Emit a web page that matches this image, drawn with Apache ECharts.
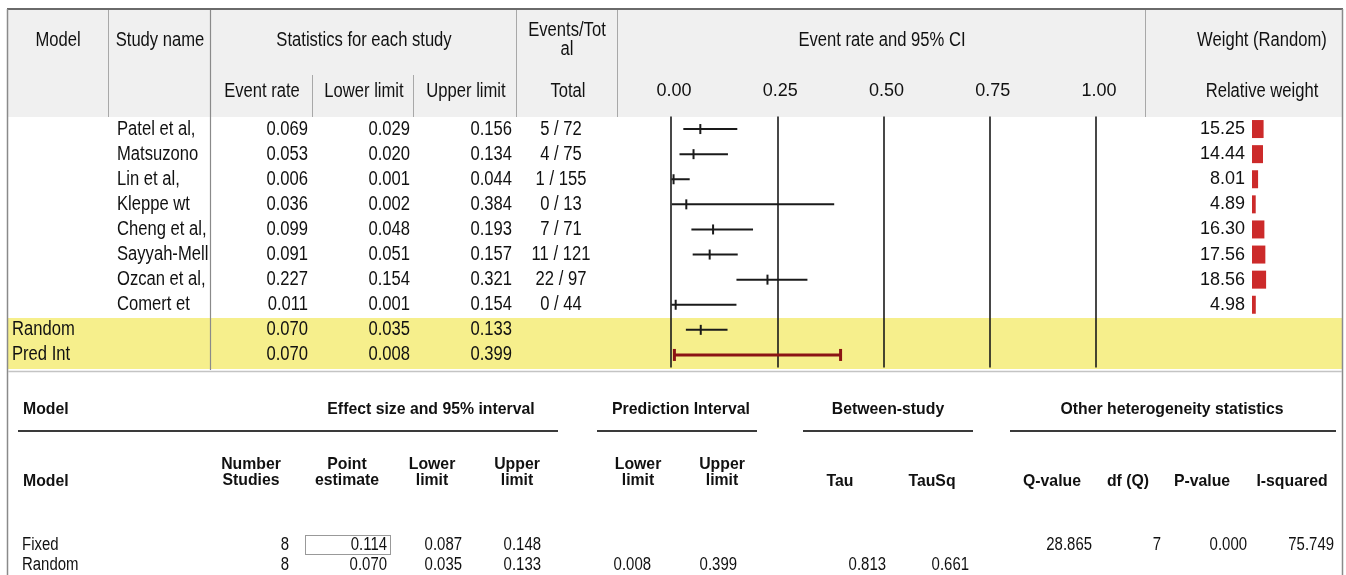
<!DOCTYPE html>
<html><head><meta charset="utf-8">
<script src="https://cdn.jsdelivr.net/npm/echarts@6/dist/echarts.min.js"></script>
<style>html,body{margin:0;padding:0;background:#fff}#c{width:1346px;height:575px}</style>
</head><body><div id="c"></div>
<script>
// ---------- data ----------
const studies = ['Patel et al,','Matsuzono','Lin et al,','Kleppe wt','Cheng et al,','Sayyah-Mell','Ozcan et al,','Comert et'];
const summaryModels = ['Random','Pred Int'];
const eventRate  = [0.069,0.053,0.006,0.036,0.099,0.091,0.227,0.011,0.070,0.070];
const lowerLimit = [0.029,0.020,0.001,0.002,0.048,0.051,0.154,0.001,0.035,0.008];
const upperLimit = [0.156,0.134,0.044,0.384,0.193,0.157,0.321,0.154,0.133,0.399];
const eventsTotal = ['5 / 72','4 / 75','1 / 155','0 / 13','7 / 71','11 / 121','22 / 97','0 / 44'];
const relWeight = [15.25,14.44,8.01,4.89,16.30,17.56,18.56,4.98];
const ciTicks = [0,0.25,0.5,0.75,1];

const sumRows   = ['Fixed','Random'];
const numStudies = [8,8];
const pointEst  = [0.114,0.070];
const lowerCI   = [0.087,0.035];
const upperCI   = [0.148,0.133];
const predLower = [null,0.008];
const predUpper = [null,0.399];
const tau       = [null,0.813];
const tauSq     = [null,0.661];
const qValue    = [28.865,null];
const dfQ       = [7,null];
const pValue    = [0.000,null];
const iSquared  = [75.749,null];

// ---------- styles / layout ----------
const FN = '"Liberation Sans",Arial,sans-serif';
const F_TOP = '20px ' + FN;
const F_BOLD = 'bold 17px ' + FN;
const F_NUM = '18px ' + FN;
const SX = 0.83, SXB = 0.93;
const ROW_TOP = 116.5, ROW_H = 251;
const rows = studies.concat(summaryModels);

const g = [];
function rect(x,y,w,h,fill,z){ g.push({type:'rect',z:z===undefined?-10:z,silent:true,shape:{x,y,width:w,height:h},style:{fill}}); }
function line(x1,y1,x2,y2,stroke,w,z){ g.push({type:'line',z:z===undefined?-5:z,silent:true,shape:{x1,y1,x2,y2},style:{stroke,lineWidth:w}}); }
function stext(t,x,y,font,align,sx){ return {type:'text',x:x,y:y,scaleX:sx||SX,silent:true,style:{text:t,x:0,y:0,font,textAlign:align||'center',textVerticalAlign:'middle',verticalAlign:'middle',fill:'#111'}}; }
function text(t,x,y,font,align,sx){ const e=stext(t,x,y,font,align,sx); e.z=5; g.push(e); }
function btext(t,x,y,align){ text(t,x,y,F_BOLD,align,SXB); }

// backgrounds
rect(8,10,1334,107,'#f0f0f0');
rect(8,318,1334,51,'#f6ef8c');
// frame
line(7,9,1343,9,'#6a6a6a',2);
line(7.5,9,7.5,575,'#8a8a8a',1.5);
line(1342.5,9,1342.5,575,'#8a8a8a',1.5);
line(8,371.5,1342,371.5,'#c4c4c4',1.5);
// header separators
[108.5,516.5,617.5,1145.5].forEach(x=>line(x,10,x,117,'#a8a8a8',1));
line(210.5,10,210.5,370,'#8a8a8a',1.2);
[312.5,413.5].forEach(x=>line(x,75,x,117,'#a8a8a8',1));
// header texts
text('Model',58,40,F_TOP);
text('Study name',160,40,F_TOP);
text('Statistics for each study',364,40,F_TOP);
text('Events/Tot',567,30,F_TOP);
text('al',567,49,F_TOP);
text('Event rate and 95% CI',882,40,F_TOP);
text('Weight (Random)',1262,40,F_TOP);
text('Event rate',262,91,F_TOP);
text('Lower limit',364,91,F_TOP);
text('Upper limit',466,91,F_TOP);
text('Total',568,91,F_TOP);
text('Relative weight',1262,91,F_TOP);

// ---------- bottom table ----------
btext('Model',23,409,'left');
btext('Effect size and 95% interval',431,409);
btext('Prediction Interval',681,409);
btext('Between-study',888,409);
btext('Other heterogeneity statistics',1172,409);
line(18,431,558,431,'#3a3a3a',2.2,1);
line(597,431,757,431,'#3a3a3a',2.2,1);
line(803,431,973,431,'#3a3a3a',2.2,1);
line(1010,431,1336,431,'#3a3a3a',2.2,1);
btext('Model',23,481,'left');
const twoLine = [['Number','Studies',251],['Point','estimate',347],['Lower','limit',432],['Upper','limit',517],['Lower','limit',638],['Upper','limit',722]];
twoLine.forEach(h=>{ btext(h[0],h[2],464); btext(h[1],h[2],480); });
[['Tau',840],['TauSq',932],['Q-value',1052],['df (Q)',1128],['P-value',1202],['I-squared',1292]].forEach(h=>btext(h[0],h[1],481));
const rowY = [545,565];
const cols = [
  [numStudies,289,v=>String(v)],
  [pointEst,387,v=>v.toFixed(3)],
  [lowerCI,462,v=>v.toFixed(3)],
  [upperCI,541,v=>v.toFixed(3)],
  [predLower,651,v=>v.toFixed(3)],
  [predUpper,737,v=>v.toFixed(3)],
  [tau,886,v=>v.toFixed(3)],
  [tauSq,969,v=>v.toFixed(3)],
  [qValue,1092,v=>v.toFixed(3)],
  [dfQ,1161,v=>String(v)],
  [pValue,1247,v=>v.toFixed(3)],
  [iSquared,1334,v=>v.toFixed(3)]
];
sumRows.forEach((r,i)=>{
  text(r,22,rowY[i],F_NUM,'left');
  cols.forEach(c=>{ const v=c[0][i]; if(v!==null && v!==undefined) text(c[2](v),c[1],rowY[i],F_NUM,'right'); });
});
g.push({type:'rect',z:4,silent:true,shape:{x:305.5,y:535.5,width:85,height:19},style:{fill:'none',stroke:'#333',lineWidth:1,lineDash:[1,1]}});

// ---------- chart ----------
const chart = echarts.init(document.getElementById('c'), null, {renderer:'canvas'});
const catAxis = (gi)=>({type:'category',gridIndex:gi,data:rows,inverse:true,show:false});
chart.setOption({
  animation:false,
  backgroundColor:'#ffffff',
  graphic:{elements:g},
  grid:[
    {left:671,width:425,top:ROW_TOP,height:ROW_H,containLabel:false},
    {left:1252,width:19,top:ROW_TOP,height:ROW_H,containLabel:false}
  ],
  xAxis:[
    {type:'value',gridIndex:0,min:ciTicks[0],max:ciTicks[ciTicks.length-1],interval:ciTicks[1]-ciTicks[0],position:'top',
     axisLine:{show:false},axisTick:{show:false},
     axisLabel:{formatter:v=>v.toFixed(2),margin:16,color:'#111',fontSize:18,fontFamily:FN,padding:[0,0,0,6]},
     splitLine:{show:true,lineStyle:{color:'#1a1a1a',width:1.6}}},
    {type:'value',gridIndex:1,min:0,max:25,show:false}
  ],
  yAxis:[catAxis(0),catAxis(1)],
  series:[
    {
      type:'custom',xAxisIndex:0,yAxisIndex:0,clip:false,z:3,
      data:rows.map((r,i)=>[lowerLimit[i],upperLimit[i],eventRate[i],i]),
      renderItem:(params,api)=>{
        const i=api.value(3);
        const lo=api.coord([api.value(0),i]), hi=api.coord([api.value(1),i]), es=api.coord([api.value(2),i]);
        if(i===rows.length-1){
          const c='#8b1414';
          return {type:'group',children:[
            {type:'line',shape:{x1:lo[0],y1:lo[1],x2:hi[0],y2:hi[1]},style:{stroke:c,lineWidth:3}},
            {type:'line',shape:{x1:lo[0],y1:lo[1]-6,x2:lo[0],y2:lo[1]+6},style:{stroke:c,lineWidth:3}},
            {type:'line',shape:{x1:hi[0],y1:hi[1]-6,x2:hi[0],y2:hi[1]+6},style:{stroke:c,lineWidth:3}}
          ]};
        }
        return {type:'group',children:[
          {type:'line',shape:{x1:lo[0],y1:lo[1],x2:hi[0],y2:hi[1]},style:{stroke:'#1a1a1a',lineWidth:2}},
          {type:'line',shape:{x1:es[0],y1:es[1]-5,x2:es[0],y2:es[1]+5},style:{stroke:'#1a1a1a',lineWidth:2}}
        ]};
      }
    },
    {
      type:'custom',xAxisIndex:0,yAxisIndex:0,clip:false,z:5,silent:true,
      data:rows.map((r,i)=>[0,i]),
      renderItem:(params,api)=>{
        const i=api.value(1);
        const y=api.coord([0,i])[1];
        const ch=[];
        const t=(s,x,al)=>ch.push(stext(s,x,y,F_TOP,al));
        if(i<studies.length){ t(studies[i],117,'left'); t(eventsTotal[i],561,'center'); }
        else { t(summaryModels[i-studies.length],12,'left'); }
        t(eventRate[i].toFixed(3),308,'right');
        t(lowerLimit[i].toFixed(3),410,'right');
        t(upperLimit[i].toFixed(3),512,'right');
        return {type:'group',children:ch};
      }
    },
    {
      type:'bar',xAxisIndex:1,yAxisIndex:1,barWidth:18,
      data:relWeight,
      itemStyle:{color:'#cc2a2a'},
      label:{show:true,position:'left',distance:7,formatter:p=>p.value.toFixed(2),color:'#111',fontSize:18,fontFamily:FN}
    }
  ]
});
</script></body></html>
